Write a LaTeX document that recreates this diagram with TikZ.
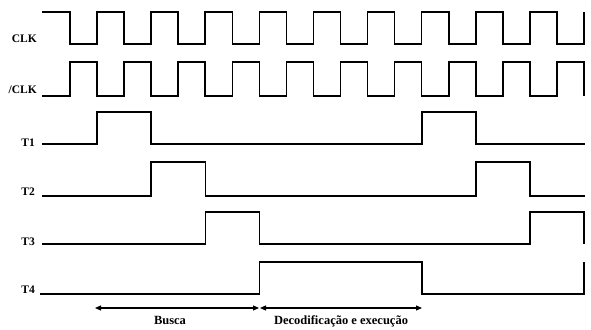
\documentclass[tikz,border=0pt]{standalone}
\usepackage{fontspec}
\setmainfont{Liberation Serif}
\usetikzlibrary{arrows.meta}
\begin{document}
\begin{tikzpicture}[x=1pt,y=-1pt,
  sig/.style={line width=1.6pt,line join=miter},
  lbl/.style={font=\fontsize{11.5}{13}\selectfont\bfseries,inner sep=0pt,anchor=base east},
  phasetext/.style={font=\fontsize{12.5}{14}\selectfont\bfseries,inner sep=0pt,anchor=base},
  span/.style={line width=1.1pt,{Triangle[length=6pt,width=5pt]}-{Triangle[length=6pt,width=5pt]}}]
\useasboundingbox (0,0) rectangle (591,329);
% half period of the clock and first edge
\def\hp{27.05}
\def\eo{70}
% clock and inverted clock
\draw[sig] (42,12) foreach \k in {0,...,9} {
  -- ({\eo+2*\k*\hp},12) -- ({\eo+2*\k*\hp},44)
  -- ({\eo+(2*\k+1)*\hp},44) -- ({\eo+(2*\k+1)*\hp},12) };
\draw[sig] (42,96) foreach \k in {0,...,9} {
  -- ({\eo+2*\k*\hp},96) -- ({\eo+2*\k*\hp},62)
  -- ({\eo+(2*\k+1)*\hp},62) -- ({\eo+(2*\k+1)*\hp},96) };
% timing states
\draw[sig] (42,144) -- (97,144) -- (97,112) -- (151.2,112) -- (151.2,144)
  -- (421.7,144) -- (421.7,112) -- (475.8,112) -- (475.8,144) -- (585,144);
\draw[sig] (42,196) -- (151.2,196) -- (151.2,162) -- (205.3,162) -- (205.3,196)
  -- (475.8,196) -- (475.8,162) -- (529.9,162) -- (529.9,196) -- (585,196);
\draw[sig] (42,244) -- (205.3,244) -- (205.3,212) -- (259.4,212) -- (259.4,244)
  -- (529.9,244) -- (529.9,212) -- (584,212) -- (584,244);
\draw[sig] (40,294) -- (259.4,294) -- (259.4,262) -- (421.7,262) -- (421.7,294)
  -- (584,294) -- (584,262);
% signal names
\node[lbl] (nclk) at (37,43) {CLK};
\node[lbl] (nnclk) at (37,93) {/CLK};
\node[lbl] (nt1) at (35,146.5) {T1};
\node[lbl] (nt2) at (35,195) {T2};
\node[lbl] (nt3) at (35,245) {T3};
\node[lbl] (nt4) at (35,293) {T4};
% phase spans
\coordinate (b0) at (95,308);
\coordinate (b1) at (259,308);
\coordinate (d0) at (260,308);
\coordinate (d1) at (422,308);
\draw[span] (b0) -- (b1);
\draw[span] (d0) -- (d1);
\node[phasetext] (busca) at (170,324) {Busca};
\node[phasetext] (dec) at (341,324) {Decodificação e execução};
\end{tikzpicture}
\end{document}
